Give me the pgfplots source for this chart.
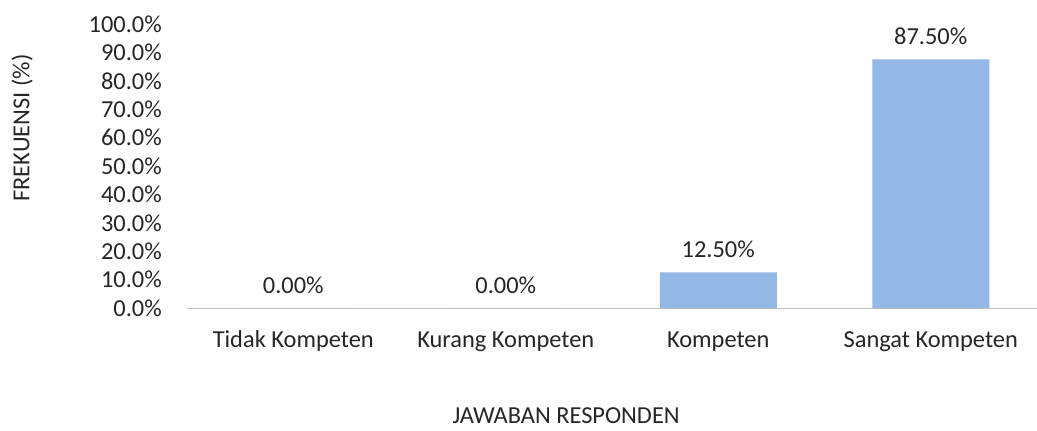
\documentclass[border=0pt]{standalone}
\usepackage{pgfplots}
\pgfplotsset{compat=1.18}
\usepackage{fontspec}
\setmainfont{Carlito}
\definecolor{barblue}{HTML}{93B8E6}
\definecolor{axgrey}{HTML}{BFBFBF}
\definecolor{txt}{HTML}{262626}
\newcommand{\lblfont}{\fontsize{24.5}{29}\selectfont}
\begin{document}
\begin{tikzpicture}
\useasboundingbox (0,0) rectangle (1037bp,431bp);
\begin{axis}[
  at={(187bp,123bp)}, anchor=south west,
  scale only axis, width=850bp, height=284bp,
  xmin=-0.5, xmax=3.5, ymin=0, ymax=100,
  axis x line*=bottom, axis y line*=left,
  x axis line style={draw=axgrey, line width=1pt, -},
  y axis line style={draw=none},
  major tick length=0pt,
  xtick={0,1,2,3},
  xticklabels={Tidak Kompeten, Kurang Kompeten, Kompeten, Sangat Kompeten},
  ytick={0,10,...,100},
  /pgf/number format/assume math mode=true,
  yticklabel={\pgfmathprintnumber[fixed,fixed zerofill,precision=1]{\tick}\%},
  ticklabel style={font=\lblfont, text=txt},
  yticklabel style={anchor=east, inner sep=0pt, xshift=-25bp},
  xticklabel style={anchor=base, inner sep=0pt, yshift=-39bp},
  clip=false,
  ybar, bar width=117bp,
  nodes near coords={\pgfmathprintnumber[fixed,fixed zerofill,precision=2]{\pgfplotspointmeta}\%},
  nodes near coords style={font=\lblfont, text=txt, anchor=base, inner sep=0pt, yshift=15bp},
]
\addplot[fill=barblue, draw=none] coordinates {(0,0) (1,0) (2,12.5) (3,87.5)};
\node[font=\lblfont, text=txt, anchor=base, inner sep=0pt] at (rel axis cs:0.446,-0.405) {JAWABAN RESPONDEN};
\node[font=\lblfont, text=txt, anchor=base, rotate=90] at (rel axis cs:-0.1853,0.634) {FREKUENSI (\%)};
\end{axis}
\end{tikzpicture}
\end{document}
